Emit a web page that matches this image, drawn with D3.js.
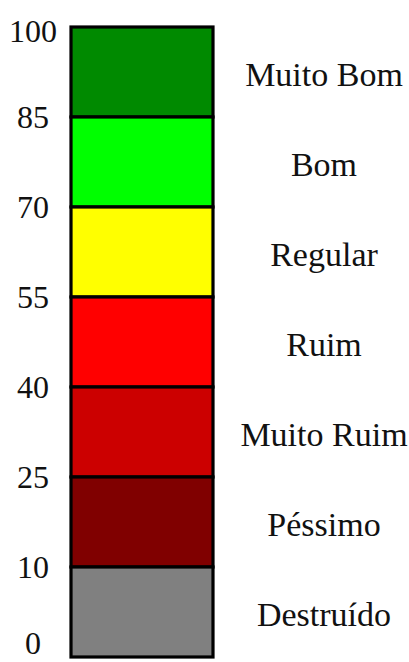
<!DOCTYPE html>
<html>
<head>
<meta charset="utf-8">
<script src="https://cdn.jsdelivr.net/npm/d3@7"></script>
<style>
html,body{margin:0;padding:0;background:#fff;}
svg{display:block;}
text{font-family:"Liberation Serif","Times New Roman",serif;fill:#111;}
</style>
</head>
<body>
<svg id="chart" width="409" height="662"></svg>
<script>
// Data
const categories = ["Muito Bom", "Bom", "Regular", "Ruim", "Muito Ruim", "Péssimo", "Destruído"];
const lowerBounds = [85, 70, 55, 40, 25, 10, 0];
const upperBounds = [100, 85, 70, 55, 40, 25, 10];
const colors = ["#008a00", "#00ff00", "#ffff00", "#ff0000", "#cc0000", "#800000", "#808080"];
const tickValues = [0, 10, 25, 40, 55, 70, 85, 100];

(function () {
  const svg = d3.select("#chart");
  const yTop = 27, yBottom = 657;
  const barLeft = 71, barRight = 213;

  // piecewise scale: each band gets equal height
  const y = d3.scaleLinear()
    .domain(tickValues)
    .range(tickValues.map((d, i) => yBottom - i * (yBottom - yTop) / (tickValues.length - 1)));

  const bands = categories.map((c, i) => ({name: c, lo: lowerBounds[i], hi: upperBounds[i], color: colors[i]}));

  svg.append("g").selectAll("rect").data(bands).join("rect")
    .attr("x", barLeft)
    .attr("y", d => y(d.hi))
    .attr("width", barRight - barLeft)
    .attr("height", d => y(d.lo) - y(d.hi))
    .attr("fill", d => d.color)
    .attr("stroke", "#000")
    .attr("stroke-width", 3.2);

  // tick labels
  svg.append("g").selectAll("text").data(tickValues).join("text")
    .attr("x", 33)
    .attr("y", d => y(d) + (d === 100 ? 14.5 : d === 0 ? -3 : 10.5))
    .attr("text-anchor", "middle")
    .attr("font-size", 32)
    .text(d => d);

  // category labels
  svg.append("g").selectAll("text").data(bands).join("text")
    .attr("x", 324)
    .attr("y", d => (y(d.lo) + y(d.hi)) / 2 + 14)
    .attr("text-anchor", "middle")
    .attr("font-size", 34)
    .text(d => d.name);
})();
</script>
</body>
</html>
